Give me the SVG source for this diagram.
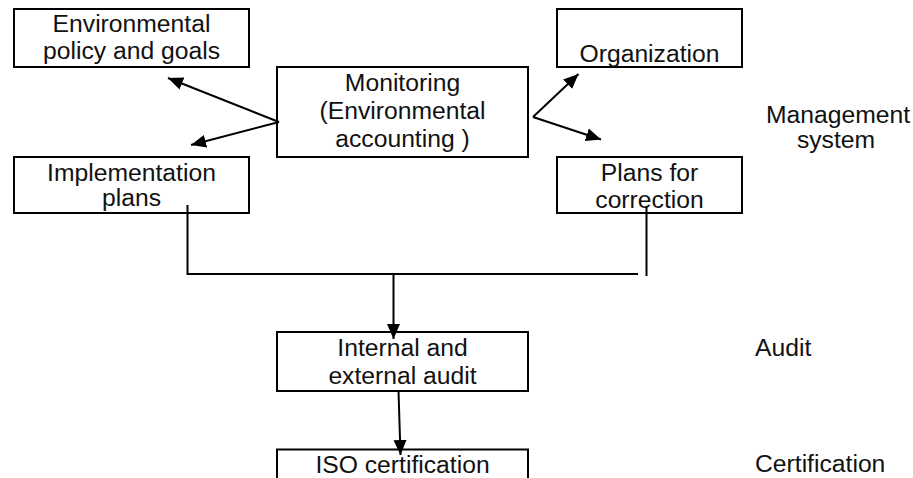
<svg xmlns="http://www.w3.org/2000/svg" width="913" height="478" viewBox="0 0 913 478">
  <style>
    .box { fill: #ffffff; stroke: #000000; stroke-width: 2; }
    .lbl { font-family: "Liberation Sans", Arial, sans-serif; font-size: 24.7px; fill: #111111; text-anchor: middle; }
    .side { font-family: "Liberation Sans", Arial, sans-serif; font-size: 24.7px; fill: #111111; }
    .wire { fill: none; stroke: #000000; stroke-width: 2; }
  </style>
  <defs>
    <marker id="arrow" viewBox="0 0 15 14" refX="15" refY="7" markerWidth="15" markerHeight="14" markerUnits="userSpaceOnUse" orient="auto">
      <path d="M0,0.5 L15,7 L0,13.5 z" fill="#000000"/>
    </marker>
  </defs>
  <rect width="913" height="478" fill="#ffffff"/>

  <!-- upper row -->
  <g id="policy">
    <rect class="box" x="14" y="9" width="235" height="58"/>
    <text class="lbl" x="131.5" y="32">Environmental</text>
    <text class="lbl" x="131.5" y="58.5">policy and goals</text>
  </g>
  <g id="monitoring">
    <rect class="box" x="277" y="67" width="251" height="90"/>
    <text class="lbl" x="402.5" y="91">Monitoring</text>
    <text class="lbl" x="402.5" y="119">(Environmental</text>
    <text class="lbl" x="402.5" y="147">accounting )</text>
  </g>
  <g id="organization">
    <rect class="box" x="557" y="9" width="185" height="58"/>
    <text class="lbl" x="649.5" y="61.5">Organization</text>
  </g>
  <g id="implementation">
    <rect class="box" x="14" y="157" width="235" height="56"/>
    <text class="lbl" x="131.5" y="180.5">Implementation</text>
    <text class="lbl" x="131.5" y="206">plans</text>
  </g>
  <g id="correction">
    <rect class="box" x="557" y="157" width="185" height="56"/>
    <text class="lbl" x="649.5" y="180.5">Plans for</text>
    <text class="lbl" x="649.5" y="208">correction</text>
  </g>

  <!-- lower chain -->
  <g id="audit">
    <rect class="box" x="277" y="332" width="251" height="59"/>
    <text class="lbl" x="402.5" y="356">Internal and</text>
    <text class="lbl" x="402.5" y="383.5">external audit</text>
  </g>
  <g id="iso">
    <rect class="box" x="277" y="449.5" width="251" height="40"/>
    <text class="lbl" x="402.5" y="472.5">ISO certification</text>
  </g>

  <!-- stage labels -->
  <g id="stage-labels">
    <text class="lbl" x="838" y="123">Management</text>
    <text class="lbl" x="836" y="148">system</text>
    <text class="side" x="755" y="356">Audit</text>
    <text class="side" x="755" y="472">Certification</text>
  </g>

  <g id="connectors">
    <line class="wire" x1="279" y1="122" x2="168" y2="78" marker-end="url(#arrow)"/>
    <line class="wire" x1="279" y1="122" x2="191" y2="145" marker-end="url(#arrow)"/>
    <line class="wire" x1="533" y1="117" x2="578.5" y2="74" marker-end="url(#arrow)"/>
    <line class="wire" x1="533" y1="117" x2="601" y2="139.5" marker-end="url(#arrow)"/>
    <path class="wire" d="M187.5,205 V274 H638"/>
    <line class="wire" x1="646.5" y1="206" x2="646.5" y2="276"/>
    <line class="wire" x1="393.5" y1="274" x2="393.5" y2="339" marker-end="url(#arrow)"/>
    <line class="wire" x1="398.5" y1="391" x2="400.5" y2="455" marker-end="url(#arrow)"/>
  </g>
</svg>
